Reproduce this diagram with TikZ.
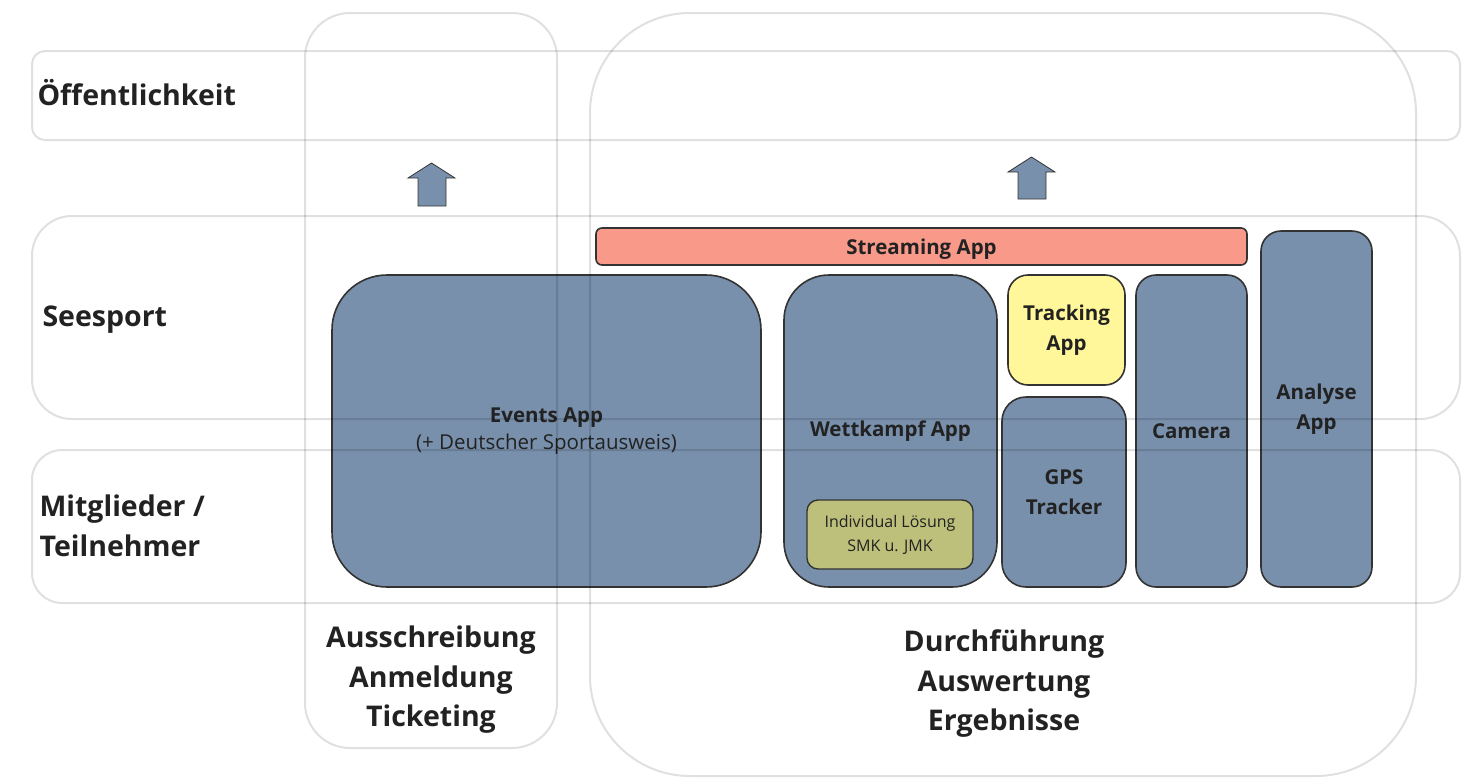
\documentclass[tikz,border=0pt]{standalone}
\usepackage{fontspec}
\setmainfont{Open Sans}
\definecolor{appblue}{HTML}{7890AB}
\definecolor{stream}{HTML}{F8998A}
\definecolor{trackyel}{HTML}{FFF79A}
\definecolor{olive}{HTML}{BDC07A}
\definecolor{ink}{HTML}{222222}
\definecolor{edge}{HTML}{333333}
\tikzset{
  app/.style={draw=edge, line width=1.6pt, fill=appblue, inner sep=0pt,
    align=center, text=ink, font=\fontsize{20.5}{30}\selectfont\bfseries},
  frame/.style={draw=black, draw opacity=0.12, line width=2pt},
  lanelabel/.style={anchor=west, align=left, text=ink,
    font=\fontsize{28.5}{40}\selectfont\bfseries},
  phaselabel/.style={align=center, text=ink,
    font=\fontsize{28.5}{39.5}\selectfont\bfseries},
  uparrow/.style={draw=edge, line width=0.8pt, fill=appblue},
}
\begin{document}
\begin{tikzpicture}[x=1pt,y=-1pt]
\useasboundingbox (0,0) rectangle (1467,777);

% application boxes
\node[app, rounded corners=6pt, fill=stream, minimum width=651pt, minimum height=37pt,
  text depth=0pt]
  (streaming) at (921.5,246.5) {Streaming App};
\node[app, rounded corners=55pt, minimum width=429pt, minimum height=312pt]
  (events) at (546.5,431) {Events App\\[-3pt]{\mdseries(+ Deutscher Sportausweis)}};
\node[app, rounded corners=45pt, minimum width=213pt, minimum height=312pt]
  (wettkampf) at (890.5,431) {Wettkampf App};
\node[app, rounded corners=11pt, fill=olive, line width=1.4pt, minimum width=166pt, minimum height=69pt,
  font=\fontsize{16}{24}\selectfont]
  (individual) at (890,534.5) {Individual Lösung\\SMK u. JMK};
\node[app, rounded corners=20pt, fill=trackyel, minimum width=117pt, minimum height=110pt]
  (tracking) at (1066.5,330) {Tracking\\App};
\node[app, rounded corners=24pt, minimum width=124pt, minimum height=190pt]
  (gps) at (1064,492) {GPS\\Tracker};
\node[app, rounded corners=20pt, minimum width=111pt, minimum height=312pt]
  (camera) at (1191.5,431) {Camera};
\node[app, rounded corners=20pt, minimum width=111pt, minimum height=356pt]
  (analyse) at (1316.5,409) {Analyse\\App};

% swimlane rows
\draw[frame, rounded corners=13pt] (32,51) rectangle (1460,140);
\draw[frame, rounded corners=40pt] (32,216) rectangle (1460,419);
\draw[frame, rounded corners=30pt] (32,450) rectangle (1460,603);
% phase columns
\draw[frame, rounded corners=45pt] (305,13) rectangle (557,748);
\draw[frame, rounded corners=100pt] (590,13) rectangle (1416,776);

% upward block arrows
\draw[uparrow] (418,206) -- (418,178) -- (408,178) -- (431.5,163) -- (455,178)
  -- (446,178) -- (446,206) -- cycle;
\draw[uparrow] (1018,199) -- (1018,172) -- (1008,172) -- (1031.5,157) -- (1055,172)
  -- (1046,172) -- (1046,199) -- cycle;

% lane labels
\node[lanelabel] (lpublic) at (34,93) {Öffentlichkeit};
\node[lanelabel] (lsport) at (39,320) {Seesport};
\node[lanelabel] (lmembers) at (36,526) {Mitglieder /\\Teilnehmer};

% phase labels
\node[phaselabel] (pfirst) at (431,680) {Ausschreibung\\Anmeldung\\Ticketing};
\node[phaselabel] (psecond) at (1004,684) {Durchführung\\Auswertung\\Ergebnisse};
\end{tikzpicture}
\end{document}
